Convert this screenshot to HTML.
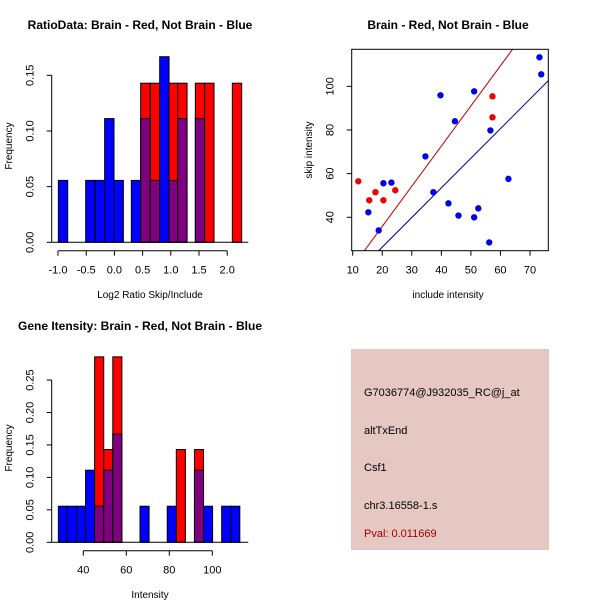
<!DOCTYPE html>
<html><head><meta charset="utf-8"><style>
html,body{margin:0;padding:0;background:#fff}
svg{display:block;font-family:"Liberation Sans",sans-serif}
</style></head><body>
<svg id="c" width="600" height="600" viewBox="0 0 600 600" xmlns="http://www.w3.org/2000/svg">
<rect x="0" y="0" width="600" height="600" fill="#fff"/>
<text x="140" y="29" text-anchor="middle" font-size="12" font-weight="bold">RatioData: Brain - Red, Not Brain - Blue</text>
<text x="448" y="29" text-anchor="middle" font-size="12" font-weight="bold">Brain - Red, Not Brain - Blue</text>
<text x="140" y="330" text-anchor="middle" font-size="12" font-weight="bold">Gene Itensity: Brain - Red, Not Brain - Blue</text>
<text x="150" y="298" text-anchor="middle" font-size="10">Log2 Ratio Skip/Include</text>
<text transform="translate(12,146) rotate(-90)" text-anchor="middle" font-size="10">Frequency</text>
<text x="448" y="298" text-anchor="middle" font-size="10">include intensity</text>
<text transform="translate(312,150) rotate(-90)" text-anchor="middle" font-size="10">skip intensity</text>
<text x="150" y="598" text-anchor="middle" font-size="10">Intensity</text>
<text transform="translate(12,448) rotate(-90)" text-anchor="middle" font-size="10">Frequency</text>
<g>
<rect x="351" y="349" width="198" height="201" fill="#e6c8c2"/>
<text x="364" y="396" font-size="11">G7036774@J932035_RC@j_at</text>
<text x="364" y="434" font-size="11">altTxEnd</text>
<text x="364" y="471" font-size="11">Csf1</text>
<text x="364" y="509" font-size="11">chr3.16558-1.s</text>
<text x="364" y="537" font-size="11" fill="#a00000">Pval: 0.011669</text>
</g>
</svg>
<script>
// ---- Ratio histogram data ----
const ratioBinStarts = [-0.994,-0.829,-0.509,-0.338,-0.173,-0.007,0.300,0.466,0.637,0.803,0.968,1.122,1.435,1.600,2.091];
const ratioBinWidth = 0.166;
const ratioBlue = [0.0556,0,0.0556,0.0556,0.1111,0.0556,0.0556,0.1111,0.0556,0.1667,0.0556,0.1111,0.1111,0,0];
const ratioRed  = [0,0,0,0,0,0,0,0.1429,0.1429,0,0.1429,0.1429,0.1429,0.1429,0.1429];
const ratioXTicks = [-1.0,-0.5,0.0,0.5,1.0,1.5,2.0];
const ratioYTicks = [0,0.05,0.10,0.15];
// ---- Intensity histogram data ----
const intBinStart = 28.4;
const intBinWidth = 4.22;
const intBlue = [0.0556,0.0556,0.0556,0.1111,0.0556,0.1111,0.1667,0,0,0.0556,0,0,0.0556,0,0,0.1111,0.0556,0,0.0556,0.0556];
const intRed  = [0,0,0,0,0.2857,0.1429,0.2857,0,0,0,0,0,0,0.1429,0,0.1429,0,0,0,0];
const intXTicks = [40,60,80,100];
const intYTicks = [0,0.05,0.10,0.15,0.20,0.25];
// ---- Scatter data ----
const blueX = [15.3,18.8,20.4,23.1,34.6,37.3,39.7,42.4,44.6,45.8,51.1,51.1,52.5,56.2,56.6,62.7,73.2,73.8];
const blueY = [42.3,34.0,55.6,55.9,67.9,51.5,95.9,46.4,84.0,40.8,97.7,40.0,44.1,28.5,79.8,57.6,113.3,105.5];
const redX = [11.9,15.6,17.7,20.4,24.4,57.3,57.3];
const redY = [56.5,47.8,51.5,47.8,52.4,95.4,85.8];
const redFit = [-0.97,1.84];   // intercept, slope
const blueFit = [-0.8,1.357];
const scXTicks = [10,20,30,40,50,60,70];
const scYTicks = [40,60,80,100];

const svg = document.getElementById('c');
const NS = 'http://www.w3.org/2000/svg';
function mk(tag, attrs, parent){const e=document.createElementNS(NS,tag);for(const k in attrs)e.setAttribute(k,attrs[k]);(parent||svg).appendChild(e);return e;}
function fmt(v,d){return v.toFixed(d);}

function histogram(prefix, starts, width, blue, red, sx, sy, xTicks, yTicks, xDec, yDec, baseL, baseR, axisY){
  const g = mk('g',{});
  
  
  for(let i=0;i<starts.length;i++){
    const b=blue[i], r=red[i];
    const x0=sx(starts[i]), x1=sx(starts[i]+width);
    const hi=Math.max(b,r), lo=Math.min(b,r);
    if(hi>0){
      const bar=mk('rect',{x:x0,y:sy(hi),width:x1-x0,height:sy(0)-sy(hi),fill:b>=r?'#0000ff':'#ff0000',stroke:'#000','stroke-width':1},g);
      
      
    }
    if(lo>0){
      const ov=mk('rect',{x:x0,y:sy(lo),width:x1-x0,height:sy(0)-sy(lo),fill:'#800080',stroke:'#000','stroke-width':1},g);
      
      
    }
  }
  mk('line',{x1:baseL,x2:baseR,y1:sy(0),y2:sy(0),stroke:'#000'},g);
  const ax=baseL;
  mk('line',{x1:ax,x2:ax,y1:sy(yTicks[0]),y2:sy(yTicks[yTicks.length-1]),stroke:'#000'},g);
  yTicks.forEach(t=>{
    mk('line',{x1:ax-5,x2:ax,y1:sy(t),y2:sy(t),stroke:'#000'},g);
    const tx=mk('text',{transform:`translate(${ax-18},${sy(t)}) rotate(-90)`,'text-anchor':'middle','font-size':11},g);
    tx.textContent=fmt(t,yDec);
    
    
  });
  mk('line',{x1:sx(xTicks[0]),x2:sx(xTicks[xTicks.length-1]),y1:axisY,y2:axisY,stroke:'#000'},g);
  xTicks.forEach(t=>{
    mk('line',{x1:sx(t),x2:sx(t),y1:axisY,y2:axisY+5,stroke:'#000'},g);
    const tx=mk('text',{x:sx(t),y:axisY+23,'text-anchor':'middle','font-size':11},g);
    tx.textContent=fmt(t,xDec);
    
    
  });
}

function intBinStarts(){return intBlue.map((_,i)=>intBinStart+i*intBinWidth);}

histogram('ratio', ratioBinStarts, ratioBinWidth, ratioBlue, ratioRed,
  v=>58+(v+1)*56.4, v=>242.3-v*1113.3, ratioXTicks, ratioYTicks, 1, 2, 51.7, 248.3, 250.7);
histogram('intensity', intBinStarts(), intBinWidth, intBlue, intRed,
  v=>83.3+(v-40)*2.15, v=>542.3-v*649, intXTicks, intYTicks, 0, 2, 51.7, 248.3, 550.7);

(function(){
  const sx=v=>352.7+(v-10)*2.955, sy=v=>217.3-(v-40)*2.183;
  const L=351.7,R=548.3,T=49.3,B=250.7;
  const g=mk('g',{});
  
  
  const cp=mk('clipPath',{id:'scclip'},g);
  mk('rect',{x:L,y:T,width:R-L,height:B-T},cp);
  const lg=mk('g',{'clip-path':'url(#scclip)'},g);
  const xa=0,xb=100;
  const rl=mk('line',{x1:sx(xa),y1:sy(redFit[0]+redFit[1]*xa),x2:sx(xb),y2:sy(redFit[0]+redFit[1]*xb),stroke:'#c00000'},lg);
  
  
  const bl=mk('line',{x1:sx(xa),y1:sy(blueFit[0]+blueFit[1]*xa),x2:sx(xb),y2:sy(blueFit[0]+blueFit[1]*xb),stroke:'#00008b'},lg);
  
  
  blueX.forEach((x,i)=>{
    const c=mk('circle',{cx:sx(x),cy:sy(blueY[i]),r:3.2,fill:'#0000ee'},lg);
    
    
  });
  redX.forEach((x,i)=>{
    const c=mk('circle',{cx:sx(x),cy:sy(redY[i]),r:3.2,fill:'#ee0000'},lg);
    
    
  });
  mk('rect',{x:L,y:T,width:R-L,height:B-T,fill:'none',stroke:'#000'},g);
  scXTicks.forEach(t=>{
    mk('line',{x1:sx(t),x2:sx(t),y1:B,y2:B+5,stroke:'#000'},g);
    const tx=mk('text',{x:sx(t),y:B+23,'text-anchor':'middle','font-size':11},g);
    tx.textContent=t;
    
    
  });
  scYTicks.forEach(t=>{
    mk('line',{x1:L-5,x2:L,y1:sy(t),y2:sy(t),stroke:'#000'},g);
    const tx=mk('text',{transform:`translate(${L-18},${sy(t)}) rotate(-90)`,'text-anchor':'middle','font-size':11},g);
    tx.textContent=t;
    
    
  });
})();
</script>
</body></html>
